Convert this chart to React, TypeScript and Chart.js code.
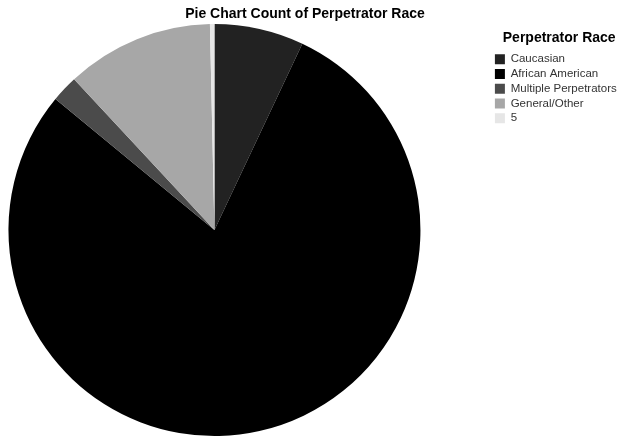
import React, { useEffect, useRef } from "react";
import { Chart, registerables, layouts } from "chart.js";

Chart.register(...registerables);

const chartTitle = "Pie Chart Count of Perpetrator Race";
const legendTitle = "Perpetrator Race";
const categories = ["Caucasian", "African American", "Multiple Perpetrators", "General/Other", "5"];
const counts = [20, 225, 6, 33, 1];
const sliceColors = ["#222222", "#000000", "#4b4b4b", "#a7a7a7", "#e6e6e6"];

const FONT = "'Liberation Sans', Arial, Helvetica, sans-serif";

// empty layout box that keeps a gap between the pie and the legend
const legendGapPlugin = {
  id: "legendGap",
  beforeInit(chart: any) {
    const gap = 62.75;
    const box: any = {
      position: "right",
      weight: 0,
      fullSize: false,
      options: {},
      left: 0,
      top: 0,
      right: 0,
      bottom: 0,
      width: gap,
      height: 0,
      isHorizontal() {
        return false;
      },
      update(_maxWidth: number, maxHeight: number) {
        this.width = gap;
        this.height = maxHeight;
      },
      draw() {},
    };
    layouts.addBox(chart, box);
  },
};

export default function App() {
  const canvasRef = useRef<HTMLCanvasElement | null>(null);

  useEffect(() => {
    const canvas = canvasRef.current;
    if (!canvas) return;
    const chart = new Chart(canvas, {
      type: "pie",
      data: {
        labels: categories,
        datasets: [
          {
            data: counts,
            backgroundColor: sliceColors,
            borderWidth: 0,
          },
        ],
      },
      options: {
        animation: false,
        responsive: false,
        devicePixelRatio: 1,
        layout: {
          padding: { left: 0, right: -7.75, top: 24, bottom: 3 },
        },
        plugins: {
          title: { display: false },
          tooltip: { enabled: false },
          legend: {
            display: true,
            position: "right",
            align: "start",
            title: {
              display: true,
              text: legendTitle,
              color: "#000",
              font: { family: FONT, size: 14, weight: "bold" },
              padding: { top: 6.7, bottom: 2.8 },
            },
            labels: {
              boxWidth: 10,
              boxHeight: 10,
              padding: 3.25,
              color: "#333",
              font: { family: FONT, size: 11.5 },
            },
          },
        },
      },
      plugins: [legendGapPlugin],
    });
    return () => chart.destroy();
  }, []);

  return (
    <div
      style={{
        position: "absolute",
        left: 0,
        top: 0,
        width: 619,
        height: 439,
        background: "#fff",
        overflow: "hidden",
      }}
    >
      <div
        style={{
          position: "absolute",
          left: 0,
          width: 610,
          top: 4.5,
          textAlign: "center",
          fontFamily: FONT,
          fontWeight: "bold",
          fontSize: 14,
          lineHeight: "16px",
          color: "#000",
          whiteSpace: "nowrap",
        }}
      >
        {chartTitle}
      </div>
      <canvas
        ref={canvasRef}
        width={619}
        height={439}
        style={{ display: "block", width: 619, height: 439 }}
      />
    </div>
  );
}
